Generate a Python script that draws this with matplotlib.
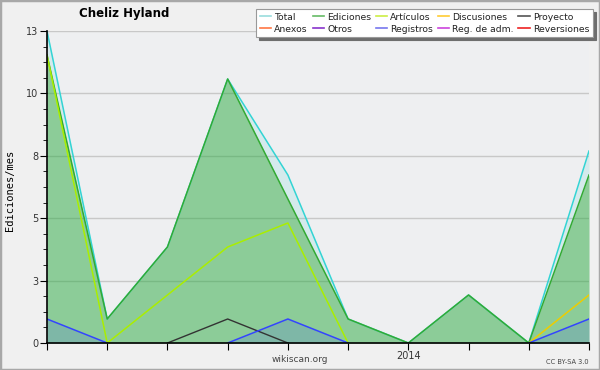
import numpy as np
import matplotlib
matplotlib.use("Agg")
import matplotlib.pyplot as plt
from matplotlib.lines import Line2D
from matplotlib.patches import Rectangle

months = ["2013-06", "2013-07", "2013-08", "2013-09", "2013-10", "2013-11",
          "2014-01", "2014-02", "2014-03", "2014-04"]
tick_labels = ["", "", "", "", "", "", "2014", "", "", ""]
nan = np.nan
total = [13, 1, 4, 11, 7, 1, 0, 2, 0, 8]
ediciones = [12, 1, 4, 11, 6, 1, 0, 2, 0, 7]
articulos = [12, 0, 2, 4, 5, 0, nan, nan, nan, nan]
discusiones = [nan, nan, nan, nan, nan, nan, nan, nan, 0, 2]
proyecto = [nan, nan, 0, 1, 0, nan, nan, nan, nan, nan]
registros_a = [1, 0, nan, nan, nan, nan, nan, nan, nan, nan]
registros_b = [nan, nan, nan, 0, 1, 0, nan, nan, nan, nan]
registros_c = [nan, nan, nan, nan, nan, nan, nan, nan, 0, 1]

legend_names = ["Total", "Anexos", "Ediciones", "Otros", "Artículos", "Registros",
                "Discusiones", "Reg. de adm.", "Proyecto", "Reversiones"]
legend_colors = ["#99dddd", "#ff7744", "#66bb66", "#8833cc", "#ccee44", "#7777ee",
                 "#ffcc33", "#cc44dd", "#555555", "#ee2222"]

fig = plt.figure(figsize=(6.0, 3.7), dpi=100)
fig.patch.set_facecolor("#f0f0f0")
fig.patches.append(Rectangle((0, 0), 1, 1, transform=fig.transFigure, fill=False,
                             edgecolor="#a8a8a8", linewidth=2.5))

ax = fig.add_axes([47/600, 27/370, 542/600, 312/370])
ax.set_facecolor("#eeeff1")
x = np.arange(len(months))

ax.set_ylim(0, 13)
ax.set_xlim(0, len(months) - 1)
yt = [0, 2.6, 5.2, 7.8, 10.4, 13]
ax.set_yticks(yt)
ax.set_yticklabels(["0", "3", "5", "8", "10", "13"])
ax.set_yticks(np.arange(0, 13.01, 0.65), minor=True)
ax.set_xticks(x)
ax.set_xticklabels(tick_labels)
ax.grid(axis="y", color="#c8c8c8", linewidth=1)
ax.set_axisbelow(True)
for s in ["top", "right"]:
    ax.spines[s].set_visible(False)
ax.spines["left"].set_linewidth(1.2)
ax.spines["bottom"].set_linewidth(1.2)
ax.tick_params(axis="y", which="major", length=5, labelsize=7, colors="black",
               labelcolor="#333333", pad=1)
ax.tick_params(axis="y", which="minor", length=3)
ax.tick_params(axis="x", length=5, labelsize=7, labelcolor="#333333", pad=1)

t = np.array(total, float)
e = np.array(ediciones, float)
ax.fill_between(x, 0, t, color="#22cccc", alpha=0.12, linewidth=0)
ax.plot(x, t, color="#33d4d4", linewidth=1.1)
ax.fill_between(x, 0, e, color="#33a833", alpha=0.45, linewidth=0)
ax.plot(x, e, color="#33aa33", linewidth=1.1)
ax.plot(x, articulos, color="#aaee00", linewidth=1.1)
ax.plot(x, discusiones, color="#eecc00", linewidth=1.1)
ax.plot(x, proyecto, color="#333333", linewidth=1.0)
for r in (registros_a, registros_b, registros_c):
    ra = np.array(r, float)
    ax.fill_between(x, 0, ra, where=~np.isnan(ra), color="#3344ff", alpha=0.15,
                    linewidth=0)
    ax.plot(x, ra, color="#3344ff", linewidth=1.1)

fig.text(124/600, 1 - 14/370, "Cheliz Hyland", fontsize=8.5,
         fontweight="bold", ha="center", va="center")
fig.text(10/600, 1 - 190/370, "Ediciones/mes", rotation=90, fontsize=7.5,
         family="DejaVu Sans Mono", ha="center", va="center")
fig.text(300/600, 1 - 360/370, "wikiscan.org", fontsize=6.5, color="#444444",
         ha="center", va="center")
fig.text(589/600, 1 - 362/370, "CC BY-SA 3.0", fontsize=4.8, color="#444444",
         ha="right", va="center")

handles = [Line2D([], [], color=c, linewidth=1.2) for c in legend_colors]
leg = fig.legend(handles, legend_names, ncol=5, loc="upper right",
                 bbox_to_anchor=(593/600, 1 - 9/370), fontsize=6.7,
                 frameon=True, fancybox=False, handlelength=1.2,
                 handletextpad=0.35, columnspacing=0.5, labelspacing=0.3,
                 borderpad=0.4, borderaxespad=0,
                 shadow={"color": "#6e6e6e", "alpha": 1})
leg.get_frame().set_edgecolor("#999999")
leg.get_frame().set_linewidth(0.8)
for txt in leg.get_texts():
    txt.set_color("#222222")

fig.savefig("out.png", dpi=100, facecolor=fig.get_facecolor())
